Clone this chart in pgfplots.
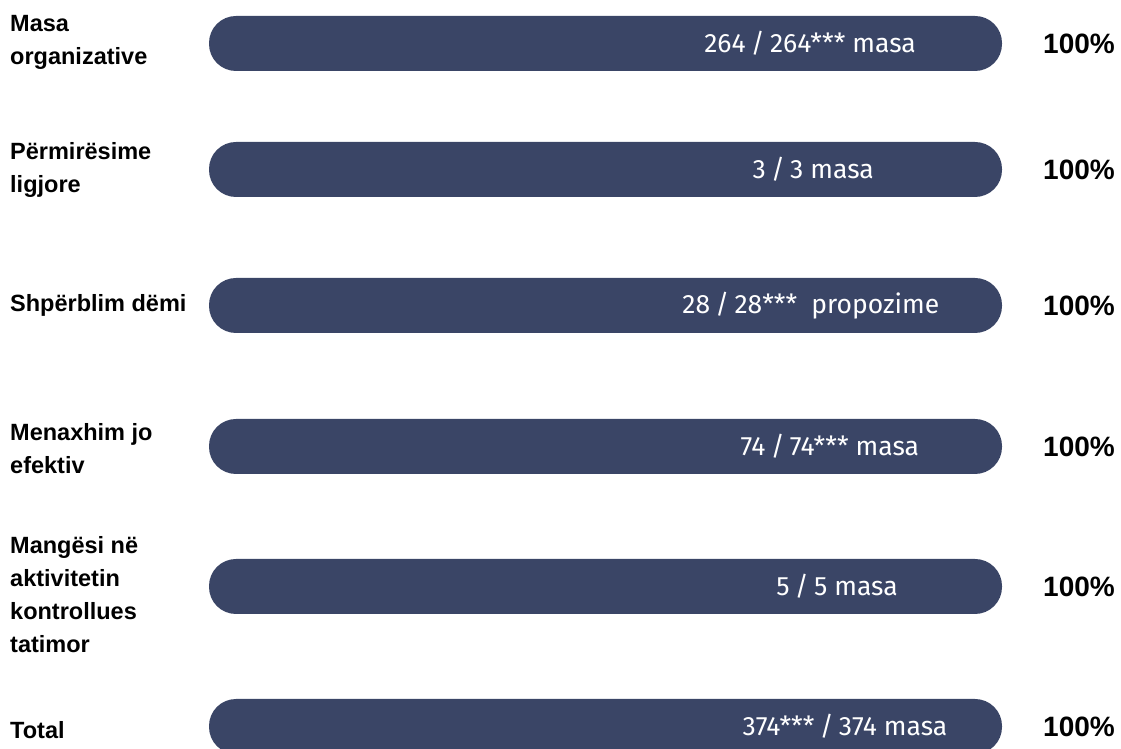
\documentclass[border=0pt]{standalone}
\usepackage{pgfplots}
\pgfplotsset{compat=1.18}
\usepackage{fontspec}
\setmainfont{Liberation Sans}
\newfontfamily\barfont{Fira Sans}
\definecolor{barblue}{RGB}{58,69,102}
\newcommand{\slsep}{\hspace{0.2em}/\hspace{0.2em}}
\begin{document}
\begin{tikzpicture}
\begin{axis}[
  scale only axis, width=1121pt, height=749pt,
  xmin=-26.356, xmax=115.006,
  ymin=-749, ymax=0,
  axis line style={draw=none},
  major tick style={draw=none},
  xtick=\empty,
  /pgf/number format/assume math mode=true,
  ytick={-42,-170,-305,-449,-595,-730},
  yticklabels={{Masa\\organizative},{Përmirësime\\ligjore},{Shpërblim dëmi},{Menaxhim jo\\efektiv},{Mangësi në\\aktivitetin\\kontrollues\\tatimor},{Total}},
  yticklabel style={anchor=west, align=left, inner sep=0pt, xshift=10pt,
    font=\bfseries\fontsize{23.5}{33}\selectfont},
  clip=true,
]
\addplot[xbar, bar width=55pt, fill=barblue, draw=none, rounded corners=27pt,
  nodes near coords={\pgfmathprintnumber{\pgfplotspointmeta}\%},
  every node near coord/.style={anchor=west, inner sep=0pt, xshift=41pt, text=black,
    font=\bfseries\fontsize{28}{30}\selectfont}]
coordinates {(100,-43.5) (100,-169.5) (100,-305.5) (100,-446.5) (100,-586.5) (100,-726.5)};
\addplot[draw=none, mark=none, nodes near coords, point meta=explicit symbolic,
  every node near coord/.style={anchor=center, inner sep=0pt, text=white,
    font=\barfont\fontsize{26.5}{28}\selectfont}]
coordinates {
(75.8,-43.5) [264\slsep 264*** masa]
(76.2,-169.5) [3\slsep 3 masa]
(75.9,-305.5) [28\slsep 28***~ propozime]
(78.3,-446.5) [74\slsep 74*** masa]
(79.2,-586.5) [5\slsep 5 masa]
(80.2,-726.5) [374***\slsep 374 masa]
};
\end{axis}
\pgfresetboundingbox
\path (current axis.south west) rectangle (current axis.north east);
\end{tikzpicture}
\end{document}
